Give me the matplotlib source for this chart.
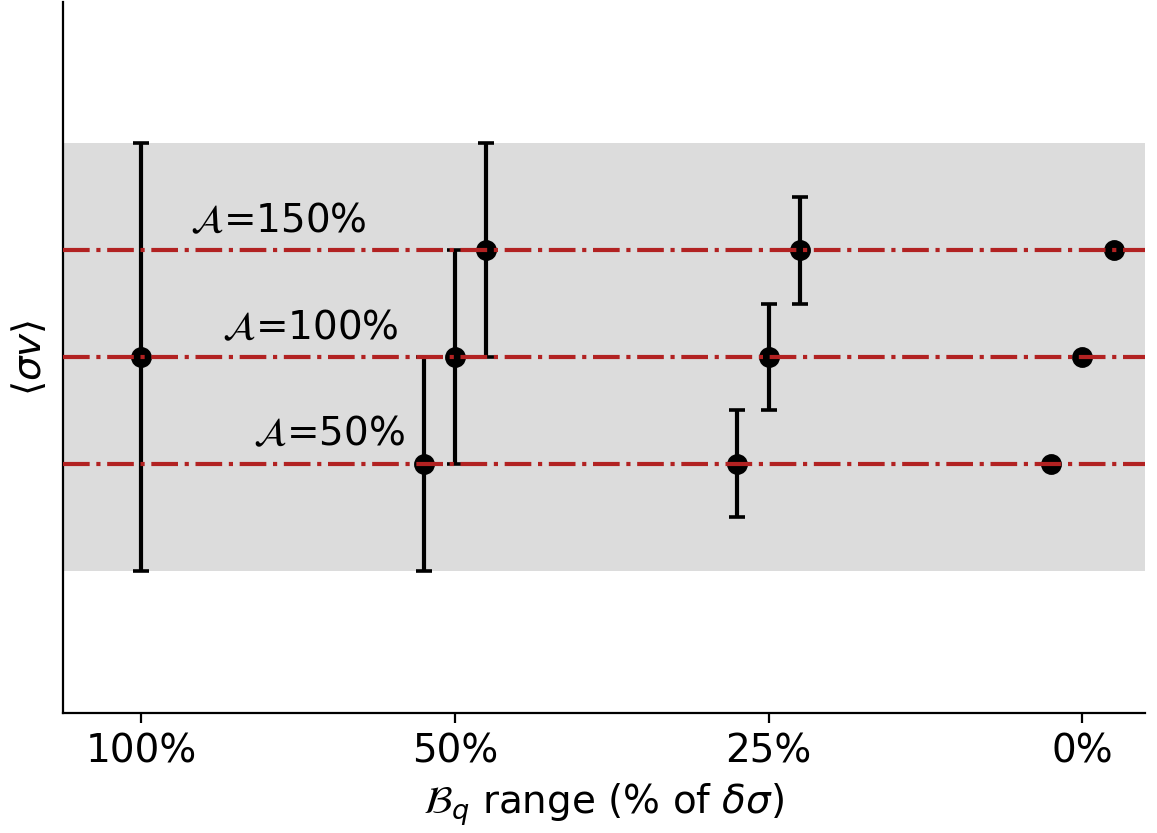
import matplotlib
matplotlib.use("Agg")
import matplotlib.pyplot as plt
import numpy as np

# categories on the x axis
range_labels = ["100%", "50%", "25%", "0%"]
range_pos = [0, 1, 2, 3]

# amplitude levels (fraction) and their labels
amp_levels = [0.5, 1.0, 1.5]
amp_labels = [r"$\mathcal{A}$=50%", r"$\mathcal{A}$=100%", r"$\mathcal{A}$=150%"]

# per-series category indices and error half-widths
a50_cats = [1, 2, 3]
a50_err = [0.5, 0.25, 0.0]
a100_cats = [0, 1, 2, 3]
a100_err = [1.0, 0.5, 0.25, 0.0]
a150_cats = [1, 2, 3]
a150_err = [0.5, 0.25, 0.0]

band_low, band_high = 0.0, 2.0

fig = plt.figure(figsize=(5.785, 4.165), dpi=200)
ax = fig.add_axes([63/1157, 1-713/833, (1145-63)/1157, (713-2)/833])

ax.axhspan(band_low, band_high, color="#dcdcdc", lw=0, zorder=0)

series = [(a50_cats, a50_err, amp_levels[0], -0.1),
          (a100_cats, a100_err, amp_levels[1], 0.0),
          (a150_cats, a150_err, amp_levels[2], 0.1)]
for cats, errs, lvl, off in series:
    xs = np.array([range_pos[c] for c in cats]) + off
    ys = np.full(len(xs), lvl)
    ax.errorbar(xs, ys, yerr=errs, fmt="o", color="black", ms=6.5,
                elinewidth=1.5, capsize=2.8, capthick=1.3, zorder=2)

for lvl in amp_levels:
    ax.axhline(lvl, color="#b22222", lw=1.5, ls="-.", zorder=3)

text_x = [0.357, 0.258, 0.156]
for lvl, lab, tx in zip(amp_levels, amp_labels, text_x):
    ax.text(tx, lvl + 0.085, lab, fontsize=14, ha="left", va="baseline", zorder=4)

ax.set_xlim(-0.25, 3.2)
ax.set_ylim(-0.665, 2.66)
ax.set_xticks(range_pos)
ax.set_xticklabels(range_labels, fontsize=14)
ax.set_yticks([])
ax.set_xlabel(r"$\mathcal{B}_q$ range (% of $\delta\sigma$)", fontsize=14, labelpad=4)
ax.set_ylabel(r"$\langle\sigma v\rangle$", fontsize=14, labelpad=5)
ax.spines["top"].set_visible(False)
ax.spines["right"].set_visible(False)

fig.savefig("out.png", dpi=200)
